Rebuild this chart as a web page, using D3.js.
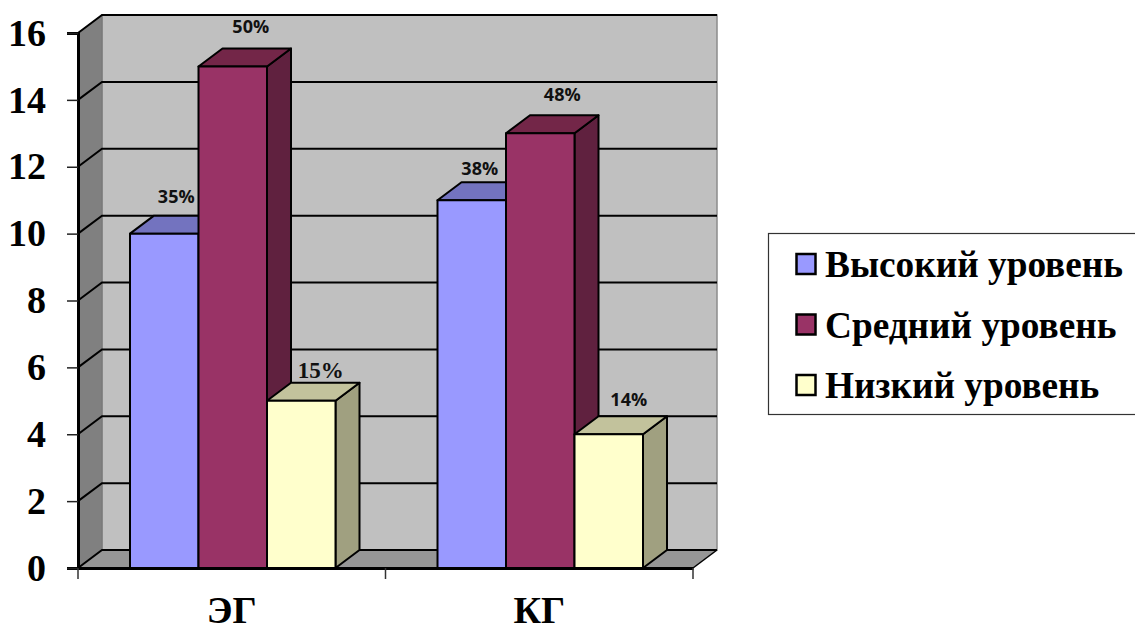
<!DOCTYPE html>
<html>
<head>
<meta charset="utf-8">
<title>Уровни ЭГ и КГ</title>
<script src="https://d3js.org/d3.v7.min.js"></script>
<style>
    html, body { margin: 0; padding: 0; background: #fff; }
    svg { display: block; }
    .serif { font-family: "Liberation Serif", serif; font-weight: bold; fill: #000; }
    .pct { font-family: "Open Sans", sans-serif; font-weight: bold; font-size: 18px; fill: #111; text-anchor: middle; }
    .pct.odd { font-family: "Liberation Serif", serif; font-size: 23px; }
</style>
</head>
<body>
<div id="chart"></div>
<script>
    // data
    const groups = ["ЭГ", "КГ"];
    const seriesNames = ["Высокий уровень", "Средний уровень", "Низкий уровень"];
    const egValues = [10, 15, 5];
    const kgValues = [11, 13, 4];
    const egLabels = ["35%", "50%", "15%"];
    const kgLabels = ["38%", "48%", "14%"];
    const yTicks = [0, 2, 4, 6, 8, 10, 12, 14, 16];

    const frontColors = ["#9999ff", "#993366", "#ffffcc"];
    const topColors = ["#7373bf", "#732648", "#c2c29c"];
    const sideColors = ["#5c5c99", "#60213f", "#a0a080"];

    // hand placed label nudges (dx, dy from bar top centre)
    const labelNudges = [
        [[12, -31], [18, -33], [19.5, -23]],
        [[8, -25], [22, -32], [20, -28]]
    ];

    const width = 1135, height = 627;
    const left = 78, right = 693, base = 568, top16 = 33;
    const depthX = 24, depthY = -18;

    const svg = d3.select("#chart").append("svg")
        .attr("width", width)
        .attr("height", height);

    const y = d3.scaleLinear().domain([0, 16]).range([base, top16]);
    const x0 = d3.scaleBand().domain(groups).range([left, right]);
    const x1 = d3.scaleBand().domain(seriesNames).range([52, 257.5]);

    const poly = pts => pts.map(p => p.join(",")).join(" ");

    // back wall, left wall, floor
    svg.append("polygon")
        .attr("points", poly([[left + depthX, y(16) + depthY], [right + depthX, y(16) + depthY], [right + depthX, y(0) + depthY], [left + depthX, y(0) + depthY]]))
        .attr("fill", "#c0c0c0").attr("stroke", "#8c8c8c").attr("stroke-width", 1.5);
    svg.append("polygon")
        .attr("points", poly([[left, y(16)], [left + depthX, y(16) + depthY], [left + depthX, y(0) + depthY], [left, y(0)]]))
        .attr("fill", "#808080").attr("stroke", "#777").attr("stroke-width", 1);
    svg.append("polygon")
        .attr("points", poly([[left, y(0)], [left + depthX, y(0) + depthY], [right + depthX, y(0) + depthY], [right, y(0)]]))
        .attr("fill", "#969696");

    // grid lines run along the left wall and back wall
    svg.selectAll("polyline.grid")
        .data(yTicks)
        .enter()
        .append("polyline")
        .attr("class", "grid")
        .attr("points", d => poly([[left, y(d)], [left + depthX, y(d) + depthY], [right + depthX, y(d) + depthY]]))
        .attr("fill", "none")
        .attr("stroke", "#000")
        .attr("stroke-width", 2);

    // right edge of the floor
    svg.append("line")
        .attr("x1", right).attr("y1", y(0))
        .attr("x2", right + depthX).attr("y2", y(0) + depthY)
        .attr("stroke", "#000").attr("stroke-width", 1.5);

    // bars
    const rows = [egValues, kgValues];
    const labelRows = [egLabels, kgLabels];
    const bars = [];
    groups.forEach((g, gi) => {
        seriesNames.forEach((s, si) => {
            bars.push({ group: g, gi: gi, series: s, si: si, value: rows[gi][si], label: labelRows[gi][si] });
        });
    });

    const barG = svg.selectAll("g.bar")
        .data(bars)
        .enter()
        .append("g")
        .attr("class", "bar")
        .attr("stroke", "#000")
        .attr("stroke-width", 2)
        .attr("stroke-linejoin", "round");

    const xa = d => x0(d.group) + x1(d.series);
    const xb = d => xa(d) + x1.bandwidth();

    barG.append("polygon")
        .attr("points", d => poly([[xb(d), y(d.value)], [xb(d) + depthX, y(d.value) + depthY], [xb(d) + depthX, y(0) + depthY], [xb(d), y(0)]]))
        .attr("fill", d => sideColors[d.si]);
    barG.append("polygon")
        .attr("points", d => poly([[xa(d), y(d.value)], [xa(d) + depthX, y(d.value) + depthY], [xb(d) + depthX, y(d.value) + depthY], [xb(d), y(d.value)]]))
        .attr("fill", d => topColors[d.si]);
    barG.append("rect")
        .attr("x", xa)
        .attr("y", d => y(d.value))
        .attr("width", x1.bandwidth())
        .attr("height", d => y(0) - y(d.value))
        .attr("fill", d => frontColors[d.si]);

    // y axis
    const yAxis = d3.axisLeft(y).tickValues(yTicks).tickSize(11).tickPadding(21).tickFormat(d3.format("d"));
    const yG = svg.append("g").attr("transform", "translate(" + left + ",0)").call(yAxis);
    yG.select(".domain").attr("stroke", "#000").attr("stroke-width", 3);
    yG.selectAll(".tick line").attr("stroke", "#222").attr("stroke-width", 1.5);
    yG.selectAll("text").attr("class", "serif").style("font-size", "38px").attr("fill", "#000");

    // x axis, labels in the middle of each band
    const xAxis = d3.axisBottom(x0).tickSize(0).tickPadding(28);
    const xG = svg.append("g").attr("transform", "translate(0," + base + ")").call(xAxis);
    xG.select(".domain").attr("stroke", "#000").attr("stroke-width", 3);
    xG.selectAll("text").attr("class", "serif").style("font-size", "38px").attr("fill", "#000");

    // separators under the axis at the band edges
    svg.selectAll("line.sep")
        .data(groups.map(g => x0(g)).concat([right]))
        .enter()
        .append("line")
        .attr("class", "sep")
        .attr("x1", d => d).attr("x2", d => d)
        .attr("y1", base).attr("y2", base + 11)
        .attr("stroke", "#333").attr("stroke-width", 1.5);

    // percent labels, the 15% one is set in a serif face in the original
    svg.selectAll("text.pct")
        .data(bars)
        .enter()
        .append("text")
        .attr("class", d => d.label === "15%" ? "pct odd" : "pct")
        .attr("x", d => xa(d) + x1.bandwidth() / 2 + labelNudges[d.gi][d.si][0])
        .attr("y", d => y(d.value) + labelNudges[d.gi][d.si][1])
        .text(d => d.label);

    // legend
    svg.append("rect")
        .attr("x", 768.5).attr("y", 233.5)
        .attr("width", 370).attr("height", 181)
        .attr("fill", "#fff").attr("stroke", "#333").attr("stroke-width", 1.2);

    const legendY = d3.scalePoint().domain(seriesNames).range([264, 385]);
    const legend = svg.selectAll("g.legend")
        .data(seriesNames)
        .enter()
        .append("g")
        .attr("class", "legend")
        .attr("transform", d => "translate(0," + legendY(d) + ")");
    legend.append("rect")
        .attr("x", 796.5).attr("y", -10)
        .attr("width", 19).attr("height", 20)
        .attr("fill", (d, i) => frontColors[i])
        .attr("stroke", "#000").attr("stroke-width", 2.5);
    legend.append("text")
        .attr("class", "serif")
        .attr("x", 825).attr("y", 13)
        .style("font-size", "37.3px")
        .text(d => d);
</script>
</body>
</html>
